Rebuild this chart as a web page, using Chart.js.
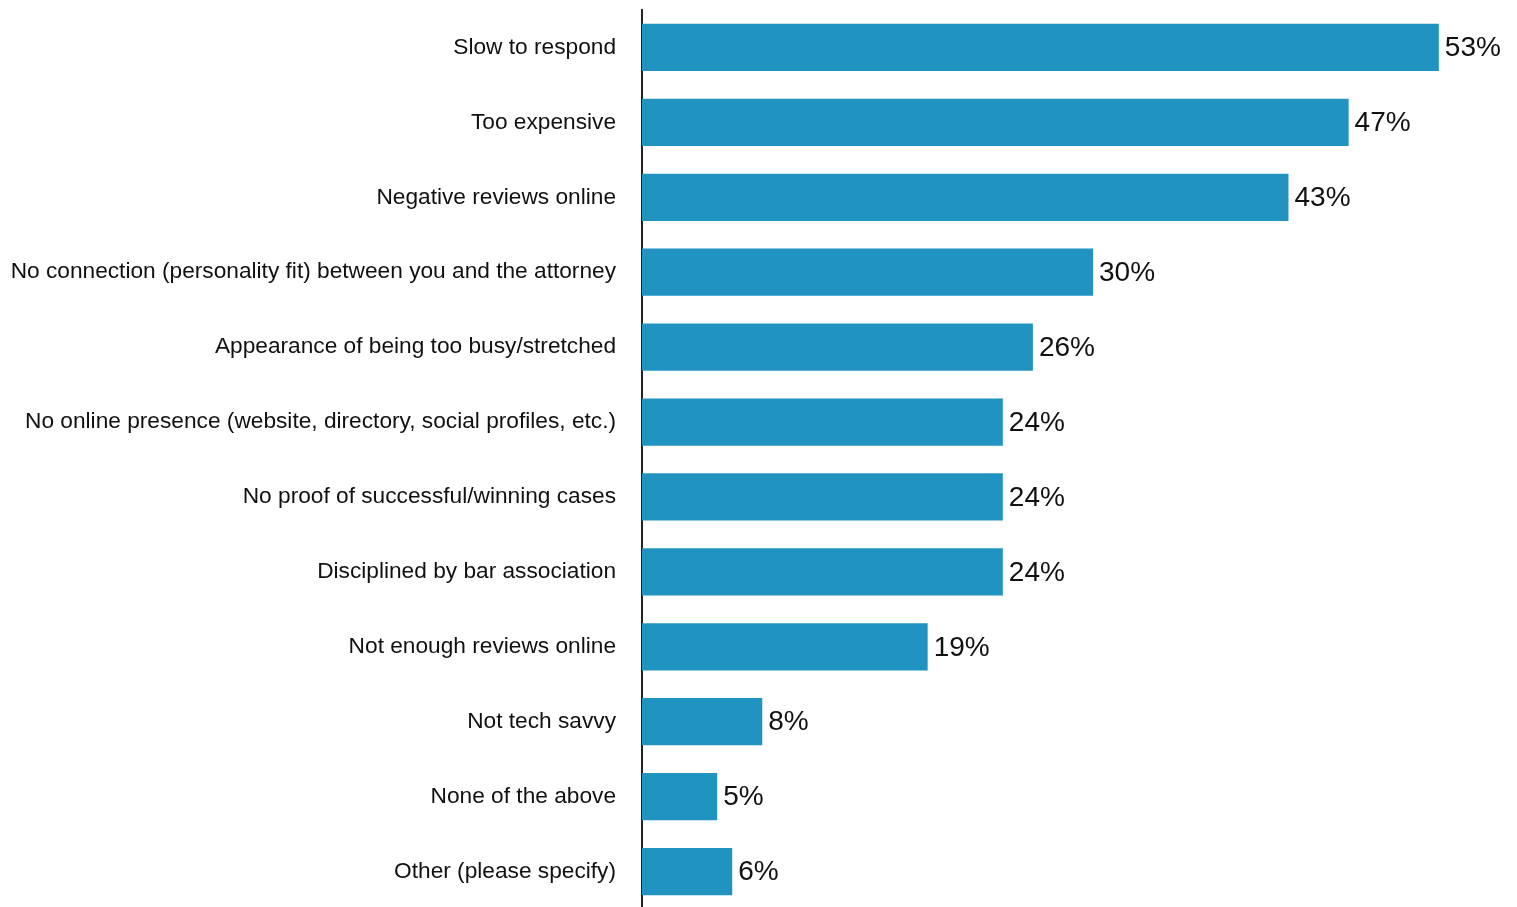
<!DOCTYPE html>
<html>
<head>
<meta charset="utf-8">
<script src="https://cdn.jsdelivr.net/npm/chart.js@4"></script>
<style>
  html, body { margin: 0; padding: 0; background: #fff; overflow: hidden; }
  #wrap { width: 1517px; height: 907px; overflow: hidden; }
  canvas { display: block; }
</style>
</head>
<body>
<div id="wrap"><canvas id="chart" width="1517" height="909"></canvas></div>
<script>
// Motivos para não contratar um advogado (%)
const categorias = [
    'Slow to respond',
    'Too expensive',
    'Negative reviews online',
    'No connection (personality fit) between you and the attorney',
    'Appearance of being too busy/stretched',
    'No online presence (website, directory, social profiles, etc.)',
    'No proof of successful/winning cases',
    'Disciplined by bar association',
    'Not enough reviews online',
    'Not tech savvy',
    'None of the above',
    'Other (please specify)'
];
const valores = [53, 47, 43, 30, 26, 24, 24, 24, 19, 8, 5, 6];
const eixoMax = 58;

const corBarra = '#2093c0';
const fonte = '"Liberation Sans", Arial, sans-serif';

// Rótulos de valor à direita de cada barra
const rotulosValor = {
    id: 'rotulosValor',
    afterDatasetsDraw(chart) {
        const ctx = chart.ctx;
        const meta = chart.getDatasetMeta(0);
        ctx.save();
        ctx.font = '28px ' + fonte;
        ctx.fillStyle = '#111';
        ctx.textAlign = 'left';
        ctx.textBaseline = 'middle';
        meta.data.forEach(function(bar, i) {
            ctx.fillText(valores[i] + '%', bar.x + 6, bar.y + 1);
        });
        ctx.restore();
    }
};

const ctx = document.getElementById('chart').getContext('2d');
new Chart(ctx, {
    type: 'bar',
    data: {
        labels: categorias,
        datasets: [{
            data: valores,
            backgroundColor: corBarra,
            borderWidth: 0,
            barPercentage: 0.63,
            categoryPercentage: 1
        }]
    },
    options: {
        indexAxis: 'y',
        responsive: false,
        animation: false,
        layout: { padding: { top: 10, right: 3, bottom: 0, left: 0 } },
        plugins: {
            legend: { display: false },
            tooltip: { enabled: false }
        },
        scales: {
            x: {
                display: false,
                min: 0,
                max: eixoMax
            },
            y: {
                afterFit: function(scale) {
                    // largura fixa do eixo e sem folga extra em cima/embaixo
                    scale.width = 642;
                    scale.paddingTop = 0;
                    scale.paddingBottom = 0;
                },
                grid: { display: true, drawOnChartArea: false, drawTicks: false },
                border: { display: true, color: '#222', width: 2 },
                ticks: {
                    padding: 26,
                    color: '#111',
                    font: { family: fonte, size: 22.7 }
                }
            }
        }
    },
    plugins: [rotulosValor]
});
</script>
</body>
</html>
